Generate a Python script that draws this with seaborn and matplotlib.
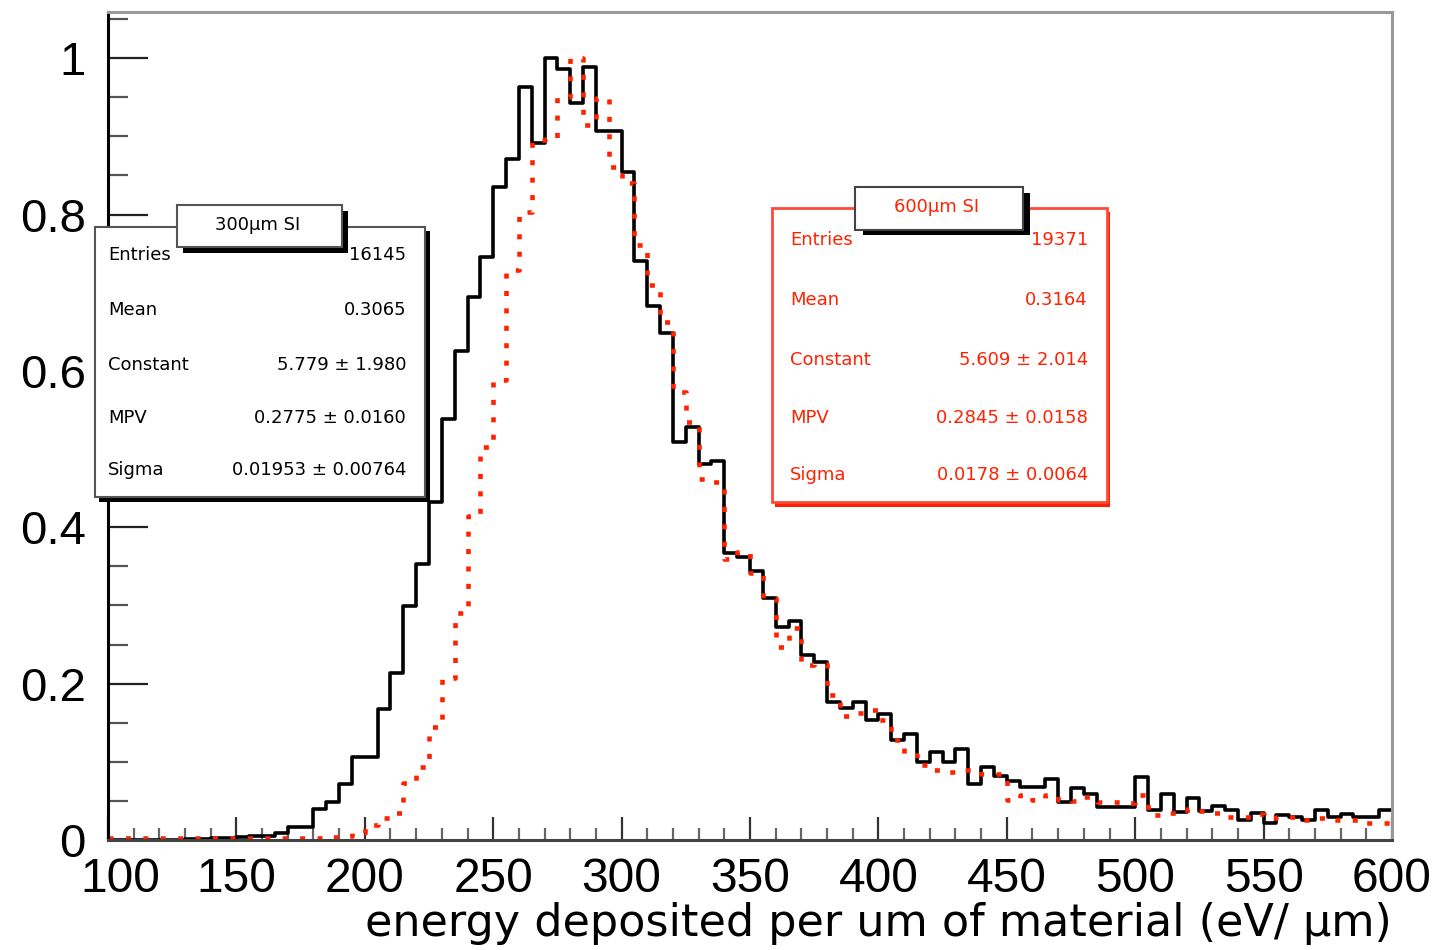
import matplotlib
matplotlib.use('Agg')
import matplotlib.pyplot as plt
import matplotlib.transforms as mtransforms
import seaborn as sns
from matplotlib.patches import Rectangle
from matplotlib.ticker import MultipleLocator, FixedLocator, FuncFormatter

# lower bin edges, 5 eV/um wide
bin_low = list(range(100, 600, 5))

# 300um Si (black, solid)
si_300 = [0.000, 0.000, 0.000, 0.000, 0.000, 0.000, 0.001, 0.001, 0.002, 0.003,
          0.004, 0.005, 0.005, 0.009, 0.017, 0.017, 0.040, 0.048, 0.072, 0.106,
          0.106, 0.168, 0.213, 0.299, 0.353, 0.432, 0.538, 0.625, 0.694, 0.746,
          0.835, 0.871, 0.963, 0.891, 1.000, 0.986, 0.942, 0.989, 0.907, 0.907,
          0.855, 0.740, 0.683, 0.649, 0.509, 0.528, 0.481, 0.485, 0.367, 0.362,
          0.344, 0.309, 0.272, 0.280, 0.237, 0.228, 0.176, 0.169, 0.176, 0.153,
          0.161, 0.128, 0.136, 0.100, 0.113, 0.100, 0.116, 0.072, 0.093, 0.082,
          0.075, 0.068, 0.068, 0.078, 0.048, 0.066, 0.059, 0.042, 0.042, 0.042,
          0.080, 0.039, 0.059, 0.036, 0.054, 0.037, 0.043, 0.038, 0.026, 0.035,
          0.022, 0.032, 0.030, 0.026, 0.039, 0.030, 0.033, 0.030, 0.030, 0.038]

# 600um Si (red, dotted)
si_600 = [0.002, 0.002, 0.002, 0.002, 0.002, 0.002, 0.002, 0.002, 0.002, 0.002,
          0.002, 0.002, 0.002, 0.002, 0.002, 0.002, 0.002, 0.004, 0.005, 0.009,
          0.019, 0.028, 0.035, 0.073, 0.094, 0.145, 0.207, 0.290, 0.415, 0.503,
          0.588, 0.729, 0.803, 0.895, 0.897, 0.950, 1.000, 0.914, 0.949, 0.861,
          0.840, 0.761, 0.710, 0.662, 0.573, 0.535, 0.462, 0.458, 0.360, 0.368,
          0.341, 0.309, 0.247, 0.271, 0.224, 0.225, 0.185, 0.158, 0.162, 0.166,
          0.153, 0.128, 0.109, 0.096, 0.090, 0.087, 0.090, 0.089, 0.085, 0.084,
          0.051, 0.058, 0.051, 0.058, 0.051, 0.050, 0.055, 0.049, 0.049, 0.047,
          0.057, 0.032, 0.034, 0.034, 0.040, 0.037, 0.035, 0.029, 0.030, 0.033,
          0.028, 0.030, 0.030, 0.026, 0.028, 0.026, 0.026, 0.025, 0.022, 0.022]

x_ticks = [100, 150, 200, 250, 300, 350, 400, 450, 500, 550, 600]

stats_300 = [("Entries", "16145"), ("Mean", "0.3065"), ("Constant", "5.779 \u00b1 1.980"),
             ("MPV", "0.2775 \u00b1 0.0160"), ("Sigma", "0.01953 \u00b1 0.00764")]
stats_600 = [("Entries", "19371"), ("Mean", "0.3164"), ("Constant", "5.609 \u00b1 2.014"),
             ("MPV", "0.2845 \u00b1 0.0158"), ("Sigma", "0.0178 \u00b1 0.0064")]

RED = '#ff2200'
W, H = 1450, 950

sns.set_style('white')
plt.rcParams['font.family'] = ['Liberation Sans', 'DejaVu Sans']
for key in ['text.color', 'axes.labelcolor', 'xtick.color', 'ytick.color',
            'xtick.labelcolor', 'ytick.labelcolor']:
    plt.rcParams[key] = 'black'

fig = plt.figure(figsize=(W / 100, H / 100), dpi=100)
ax = fig.add_axes([108 / W, 1 - 840 / H, (1392 - 108) / W, (840 - 12) / H])

edges = list(range(100, 605, 5))
centers = [b + 2.5 for b in bin_low]
sns.histplot(x=centers, weights=si_300, bins=edges, element='step', fill=False,
             color='black', linewidth=2.6, ax=ax)
sns.histplot(x=centers, weights=si_600, bins=edges, element='step', fill=False,
             color=RED, linewidth=3.3, linestyle=(0, (1.1, 2.7)), ax=ax)

ax.set_xlim(100, 600)
ax.set_ylim(0, 1.059)
ax.xaxis.set_major_locator(FixedLocator(x_ticks))
ax.xaxis.set_minor_locator(MultipleLocator(10))
ax.yaxis.set_major_locator(MultipleLocator(0.2))
ax.yaxis.set_minor_locator(MultipleLocator(0.05))
ax.yaxis.set_major_formatter(FuncFormatter(lambda v, p: '%g' % round(v, 2)))
ax.tick_params(axis='both', which='both', left=True, bottom=True, top=False, right=False)
ax.tick_params(axis='y', which='major', direction='in', length=29, width=1.6,
               color='#222', labelsize=34, pad=16)
ax.tick_params(axis='y', which='minor', direction='in', length=14.5, width=1.6, color='#555')
ax.tick_params(axis='x', which='major', direction='in', length=16.5, width=1.6,
               color='#333', labelsize=34.5, pad=12)
ax.tick_params(axis='x', which='minor', direction='in', length=8.5, width=1.6, color='#666')
ax.set_ylabel('')
ax.set_xlabel('energy deposited per um of material (eV/ \u00b5m)', family='DejaVu Sans',
              fontsize=32, loc='right', labelpad=0.5)

for side, col in [('left', 'black'), ('bottom', '#444'), ('top', '#999'), ('right', '#999')]:
    ax.spines[side].set_visible(True)
    ax.spines[side].set_color(col)
    ax.spines[side].set_linewidth(2.2)

# nudge the "100" label right, as in the original, so it clears the "0"
fig.canvas.draw()
for tick in ax.xaxis.get_major_ticks():
    if abs(tick.get_loc() - 100) < 1e-6:
        lab = tick.label1
        lab.set_transform(lab.get_transform() +
                          mtransforms.ScaledTranslation(0.12, 0, fig.dpi_scale_trans))


def box(x0, y0, x1, y1, **kw):
    r = Rectangle((x0 / W, 1 - y1 / H), (x1 - x0) / W, (y1 - y0) / H,
                  transform=fig.transFigure, zorder=5, **kw)
    fig.add_artist(r)


def label(px, py, s, **kw):
    fig.text(px / W, 1 - py / H, s, family='DejaVu Sans', fontsize=13,
             va='center', zorder=7, **kw)


# 300um stat box
box(99, 231, 430, 502, fc='black', ec='none')
box(95, 227, 425, 497, fc='white', ec='#555', lw=1.5)
box(183, 211, 348, 253, fc='black', ec='none')
box(177, 205, 342, 247, fc='white', ec='#555', lw=1.5)
label(258, 225, '300\u00b5m SI', ha='center', color='black')
for (name, val), py in zip(stats_300, [255, 310, 365, 418, 470]):
    label(108, py, name, ha='left', color='black')
    label(406, py, val, ha='right', color='black')

# 600um stat box
box(775, 212, 1110, 507, fc=RED, ec='none')
box(772, 208, 1107, 502, fc='white', ec='#ff4a3a', lw=2)
box(863, 193, 1030, 235, fc='black', ec='none')
box(855, 187, 1023, 230, fc='white', ec='#444', lw=1.5)
label(937, 207, '600\u00b5m SI', ha='center', color=RED)
for (name, val), py in zip(stats_600, [240, 300, 360, 418, 475]):
    label(790, py, name, ha='left', color=RED)
    label(1088, py, val, ha='right', color=RED)

fig.savefig('out.png', dpi=100)
